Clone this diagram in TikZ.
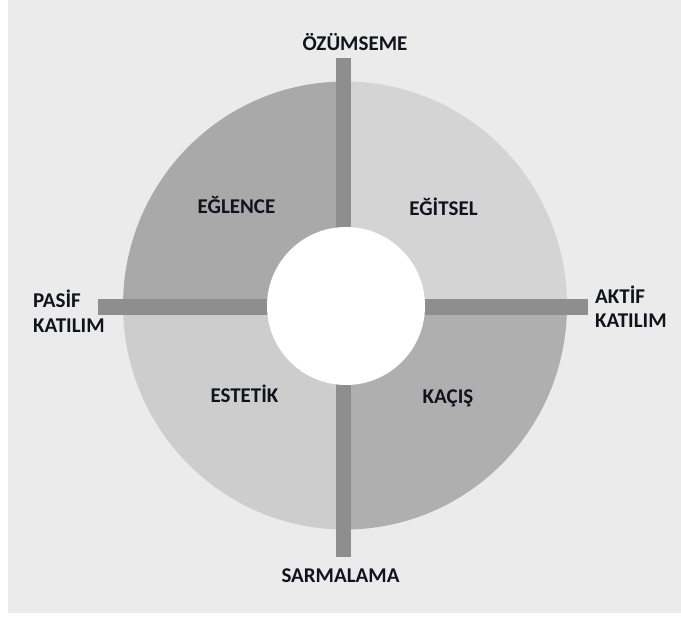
\documentclass[tikz,border=0pt]{standalone}
\usepackage{fontspec}
\setmainfont{Carlito}
\definecolor{bgray}{HTML}{EBEBEB}
\definecolor{qdark}{HTML}{A9A9A9}
\definecolor{qdarkb}{HTML}{AFAFAF}
\definecolor{qlight}{HTML}{D4D4D4}
\definecolor{qlightb}{HTML}{CDCDCD}
\definecolor{barc}{HTML}{8E8E8E}
\definecolor{txt}{HTML}{10131C}
\begin{document}
\begin{tikzpicture}[x=1pt,y=-1pt,
  lbl/.style={font=\bfseries\fontsize{21}{25}\selectfont, inner sep=0pt, anchor=base, text=txt},
  lblw/.style={lbl, anchor=base west},
  barv/.style={draw=barc, line width=15pt},
  barh/.style={draw=barc, line width=16pt}]
\useasboundingbox (0,0) rectangle (681,619);
\fill[white] (0,0) rectangle (681,619);
\fill[bgray] (8,0) rectangle (681,613);
\coordinate (c) at (345,305.5);
% quadrants
\fill[qdark]  (c) -- ++(-222pt,0pt) arc[start angle=180,end angle=90,x radius=222pt,y radius=224pt] -- cycle;
\fill[qlight] (c) -- ++(0pt,224pt) arc[start angle=90,end angle=0,x radius=222pt,y radius=224pt] -- cycle;
\fill[qdarkb] (c) -- ++(222pt,0pt) arc[start angle=0,end angle=-90,x radius=222pt,y radius=224pt] -- cycle;
\fill[qlightb] (c) -- ++(0pt,-224pt) arc[start angle=-90,end angle=-180,x radius=222pt,y radius=224pt] -- cycle;
% bars
\coordinate (vtop) at (343.5,58);
\coordinate (vbot) at (343.5,557);
\coordinate (hl) at (98,306.5);
\coordinate (hr) at (588,306.5);
\draw[barv] (vtop) -- (vbot);
\draw[barh] (hl) -- (hr);
% centre
\node[circle, fill=white, inner sep=0pt, minimum size=158pt] (core) at (346,306) {};
% labels
\node[lbl] (ozum) at (355,50) {ÖZÜMSEME};
\node[lbl] (sarm) at (340.5,582) {SARMALAMA};
\node[lbl] (egl) at (236.5,213) {EĞLENCE};
\node[lbl] (egi) at (443.5,215) {EĞİTSEL};
\node[lbl] (est) at (244.5,402) {ESTETİK};
\node[lbl] (kac) at (448,403) {KAÇIŞ};
\node[lblw] (pas1) at (33,307) {PASİF};
\node[lblw] (pas2) at (33,332) {KATILIM};
\node[lblw] (akt1) at (595,303) {AKTİF};
\node[lblw] (akt2) at (595,327) {KATILIM};
\end{tikzpicture}
\end{document}
